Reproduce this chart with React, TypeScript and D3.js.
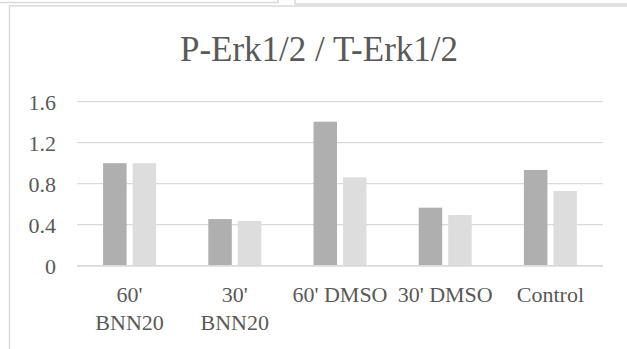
import { useEffect, useRef } from 'react';
import * as d3 from 'd3';

const categories = ["60' BNN20", "30' BNN20", "60' DMSO", "30' DMSO", 'Control'];
const categoryLines = [["60'", 'BNN20'], ["30'", 'BNN20'], ["60' DMSO"], ["30' DMSO"], ['Control']];
const seriesNames = ['Series1', 'Series2'];
const series1 = [1.0, 0.455, 1.405, 0.566, 0.934];
const series2 = [1.0, 0.436, 0.862, 0.495, 0.729];
const yTicks = [0, 0.4, 0.8, 1.2, 1.6];
const title = 'P-Erk1/2 / T-Erk1/2';

const App = () => {
  const svgRef = useRef<SVGSVGElement | null>(null);
  const width = 627;
  const height = 349;

  useEffect(() => {
    const svg = d3.select(svgRef.current);
    svg.selectAll('*').remove();

    const textColor = '#595959';
    const lineColor = '#d9d9d9';

    // frames of the neighbouring boxes (cropped from a document)
    svg.append('path')
      .attr('d', 'M0,2.5 H278 V0')
      .attr('fill', 'none')
      .attr('stroke', lineColor)
      .attr('stroke-width', 1.5);
    svg.append('path')
      .attr('d', 'M295,0 V4 H627')
      .attr('fill', 'none')
      .attr('stroke', lineColor)
      .attr('stroke-width', 1.5);

    // chart area border
    svg.append('path')
      .attr('d', 'M9.5,349 V6 H627')
      .attr('fill', 'none')
      .attr('stroke', lineColor)
      .attr('stroke-width', 1.5);

    const plot = { left: 77, right: 603, top: 101.7, bottom: 265.7 };

    const x0 = d3.scaleBand<string>()
      .domain(categories)
      .range([plot.left, plot.right])
      .padding(0);

    const x1 = d3.scaleBand<string>()
      .domain(seriesNames)
      .range([-26.5, 26.5])
      .paddingInner(0.203)
      .paddingOuter(0);

    const y = d3.scaleLinear()
      .domain([0, 1.6])
      .range([plot.bottom, plot.top]);

    // title
    svg.append('text')
      .attr('x', 319)
      .attr('y', 61)
      .attr('text-anchor', 'middle')
      .attr('font-size', 35)
      .attr('fill', textColor)
      .text(title);

    // gridlines
    svg.append('g')
      .selectAll('line')
      .data(yTicks)
      .enter()
      .append('line')
      .attr('x1', plot.left)
      .attr('x2', plot.right)
      .attr('y1', d => y(d))
      .attr('y2', d => y(d))
      .attr('stroke', lineColor)
      .attr('stroke-width', d => (d === 0 ? 1.5 : 1.2));

    // y tick labels
    svg.append('g')
      .selectAll('text')
      .data(yTicks)
      .enter()
      .append('text')
      .attr('x', 56)
      .attr('y', d => y(d) + 8)
      .attr('text-anchor', 'end')
      .attr('font-size', 22)
      .attr('fill', textColor)
      .text(d => (d === 0 ? '0' : d.toFixed(1)));

    // bars
    const colors = ['#afafaf', '#dddddd'];
    const allSeries = [series1, series2];

    allSeries.forEach((values, si) => {
      svg.append('g')
        .selectAll('rect')
        .data(values)
        .enter()
        .append('rect')
        .attr('x', (d, i) => (x0(categories[i]) ?? 0) + x0.bandwidth() / 2 + (x1(seriesNames[si]) ?? 0))
        .attr('y', d => y(d))
        .attr('width', x1.bandwidth())
        .attr('height', d => y(0) - y(d))
        .attr('fill', colors[si]);
    });

    // redraw axis line on top of bars
    svg.append('line')
      .attr('x1', plot.left)
      .attr('x2', plot.right)
      .attr('y1', y(0))
      .attr('y2', y(0))
      .attr('stroke', lineColor)
      .attr('stroke-width', 1.5);

    // x labels
    const labels = svg.append('g')
      .selectAll('text')
      .data(categories)
      .enter()
      .append('text')
      .attr('x', d => (x0(d) ?? 0) + x0.bandwidth() / 2)
      .attr('y', 302)
      .attr('text-anchor', 'middle')
      .attr('font-size', 22)
      .attr('fill', textColor);

    labels.each(function (d, i) {
      const t = d3.select(this);
      categoryLines[i].forEach((line, li) => {
        t.append('tspan')
          .attr('x', (x0(d) ?? 0) + x0.bandwidth() / 2)
          .attr('dy', li === 0 ? 0 : 28)
          .text(line);
      });
    });
  }, []);

  return (
    <svg
      ref={svgRef}
      width={width}
      height={height}
      style={{
        position: 'absolute',
        left: 0,
        top: 0,
        background: '#ffffff',
        display: 'block',
        fontFamily: "'Liberation Serif', 'Times New Roman', Times, serif",
      }}
    />
  );
};

export default App;
